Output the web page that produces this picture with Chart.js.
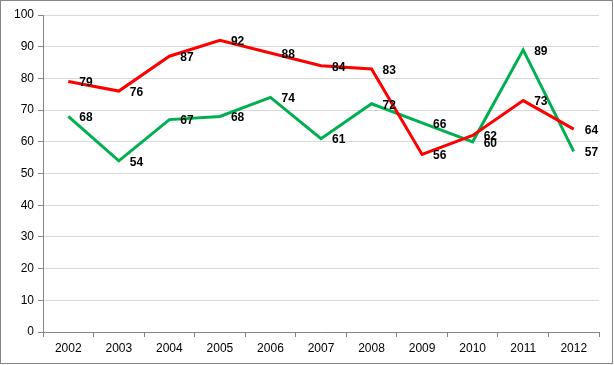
<!DOCTYPE html>
<html>
<head>
<meta charset="utf-8">
<script src="https://cdn.jsdelivr.net/npm/chart.js@4/dist/chart.umd.min.js"></script>
<style>
  body { margin: 0; background: #fff; }
  #wrap { width: 614px; height: 365px; position: relative; }
</style>
</head>
<body>
<div id="wrap"><canvas id="lineChart"></canvas></div>
<script>
const years = ['2002', '2003', '2004', '2005', '2006', '2007', '2008', '2009', '2010', '2011', '2012'];
const redValues = [79, 76, 87, 92, 88, 84, 83, 56, 62, 73, 64];
const greenValues = [68, 54, 67, 68, 74, 61, 72, 66, 60, 89, 57];

// border round the whole chart
const frame = {
    id: 'frame',
    beforeDraw(chart) {
        const c = chart.ctx;
        c.save();
        c.fillStyle = '#fff';
        c.fillRect(0, 0, chart.width, chart.height);
        c.strokeStyle = '#868686';
        c.lineWidth = 1;
        c.strokeRect(0.5, 0.5, 612, 363);
        c.restore();
    }
};

// value labels to the right of each point
const valueLabels = {
    id: 'valueLabels',
    afterDatasetsDraw(chart) {
        const c = chart.ctx;
        c.save();
        c.font = 'bold 12px "Liberation Sans", Arial, sans-serif';
        c.fillStyle = '#000';
        c.textAlign = 'left';
        c.textBaseline = 'middle';
        chart.data.datasets.forEach((ds, i) => {
            chart.getDatasetMeta(i).data.forEach((pt, j) => {
                c.fillText(String(ds.data[j]), pt.x + 11, pt.y + 1.5);
            });
        });
        c.restore();
    }
};

const ctx = document.getElementById('lineChart').getContext('2d');
new Chart(ctx, {
    type: 'line',
    data: {
        labels: years,
        datasets: [{
            label: 'Red',
            data: redValues,
            borderColor: '#ff0000',
            borderWidth: 3,
            pointRadius: 0,
            tension: 0
        }, {
            label: 'Green',
            data: greenValues,
            borderColor: '#00b050',
            borderWidth: 3,
            pointRadius: 0,
            tension: 0
        }]
    },
    options: {
        responsive: true,
        maintainAspectRatio: false,
        animation: false,
        layout: { padding: { top: 15, right: 15, left: 0, bottom: 0 } },
        plugins: {
            legend: { display: false },
            tooltip: { enabled: false }
        },
        scales: {
            x: {
                offset: true,
                grid: {
                    offset: true,
                    drawOnChartArea: false,
                    drawTicks: true,
                    tickLength: 5,
                    tickColor: '#868686'
                },
                border: { display: true, color: '#868686' },
                ticks: {
                    color: '#000',
                    font: { family: '"Liberation Sans", Arial, sans-serif', size: 12 },
                    padding: 4,
                    maxRotation: 0
                },
                afterFit(scale) { scale.height = 33; }
            },
            y: {
                min: 0,
                max: 100,
                grid: {
                    color: '#d9d9d9',
                    tickColor: '#868686',
                    tickLength: 5
                },
                border: { display: true, color: '#868686' },
                ticks: {
                    stepSize: 10,
                    color: '#000',
                    font: { family: '"Liberation Sans", Arial, sans-serif', size: 12 },
                    padding: 4
                },
                afterFit(scale) { scale.width = 43; }
            }
        }
    },
    plugins: [frame, valueLabels]
});
</script>
</body>
</html>
